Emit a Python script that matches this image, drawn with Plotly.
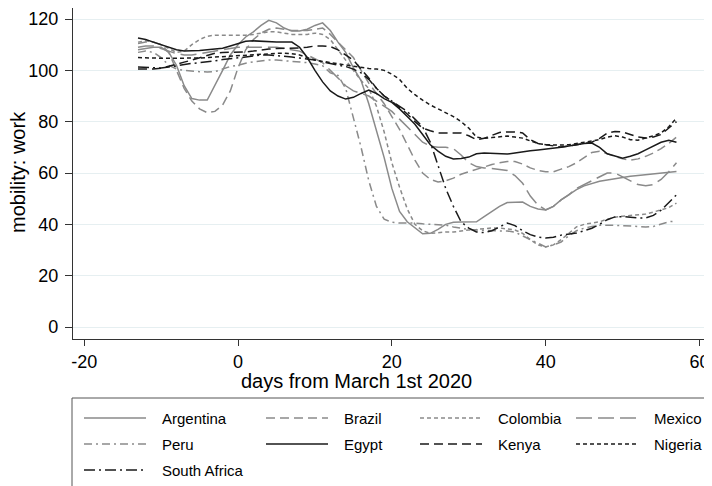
import plotly.graph_objects as go

days = list(range(-13, 58))

argentina = [108, 108.5, 109, 109, 107, 102, 94, 89, 88.4, 88.4, 94, 100, 106, 110, 113, 115, 117.5, 119.5, 118.5, 116.5,
             115.3, 115.3, 116, 117.5, 118.5, 115.5, 111, 107, 101, 96, 87, 77, 66, 54, 45, 41, 38.5, 36.3, 36.5, 38,
             40, 40.8, 40.9, 40.9, 41, 43, 45, 47, 48.5, 48.7, 48.7, 47, 46, 45.6, 47, 49.5, 51.5, 53.5, 55, 56,
             56.8, 57.3, 57.8, 58.3, 58.7, 59, 59.3, 59.6, 60, 60.3, 60.6]
brazil = [110.5, 111, 111, 110, 107, 100, 93, 88, 85, 83.5, 84, 86.5, 92, 101, 108, 112, 114.5, 116, 116.5, 116,
          115.5, 115.5, 115.5, 116, 116.5, 114, 111, 108, 105, 100, 95, 91, 87, 82, 77, 71, 65, 60, 57.5, 56.5,
          57, 58, 59.5, 60.5, 61.5, 62.5, 63.3, 64, 64.5, 64.5, 63.5, 62, 61, 60.5, 60.5, 61.5, 62.5, 64, 66, 68,
          68.5, 67.5, 66.5, 65.5, 65, 65.5, 66.5, 67.8, 69.5, 71.5, 74]
colombia = [111, 111.5, 111, 110, 108.5, 107, 107.5, 110, 112, 113.3, 113.7, 113.7, 113.7, 113.7, 113.7, 114, 114.5, 115, 115, 114.5,
            114, 114, 114, 114.5, 114, 112, 108, 104, 100, 96, 93, 86, 76, 64, 54.5, 46, 40, 37.5, 36.5, 36.8,
            37, 37, 37.5, 37.8, 38, 38.3, 38.6, 38.6, 38.3, 37.8, 36.5, 34, 32, 31.2, 32, 34, 36.5, 39, 40, 40.5,
            41, 42, 42.8, 43.2, 43.4, 43.6, 44, 44.8, 45.5, 46.5, 48.3]
mexico = [109, 109.5, 109.5, 108.5, 107.5, 106.5, 106, 106, 106.5, 107, 107.5, 108, 108.5, 109, 109, 109, 109.2, 109.2, 109, 108.5,
          108, 107.5, 106, 104.5, 103, 100, 97, 94, 92, 91, 90, 88, 86, 84, 81, 78, 75, 72, 70.5, 70,
          70, 69.5, 67, 64, 62.5, 62, 61.8, 61.5, 61, 59, 56, 51, 47.5, 45.6, 47, 49.5, 51.5, 54, 55.5, 57,
          58.5, 60, 60, 58.5, 57, 55.5, 55, 55.5, 57.5, 60.5, 64]
peru = [107, 107.5, 107, 105, 102, 100.5, 100, 99.7, 99.5, 99.4, 99.5, 100.5, 101.5, 102, 102.8, 103.3, 103.7, 104, 104, 103.8,
        103.5, 103.3, 103, 102.5, 101.8, 99, 98, 93, 82, 70, 57, 47, 42, 40.8, 40.5, 40.5, 40.5, 40.2, 40, 39.8,
        39.7, 39, 38.5, 38, 37.8, 37.6, 37.5, 37.4, 37.4, 37, 35.5, 34, 32.5, 31.2, 32, 33.1, 35.5, 37.5, 38.5, 39.2,
        39.6, 39.7, 39.6, 39.5, 39.4, 39.3, 39, 39.2, 40, 41, 41.3]
egypt = [112.6, 112, 111, 110, 109, 108, 107.5, 107.5, 107.7, 108, 108.3, 108.6, 109.5, 110.5, 111.3, 111.5, 111.3, 111.2, 111, 111,
         111, 109, 105, 100, 95.5, 92, 90, 88.8, 89.5, 91, 92.3, 91, 89, 87.5, 85, 82, 79, 75, 71, 68.5,
         66.5, 65.5, 65.7, 66.2, 67.5, 67.8, 67.6, 67.4, 67.4, 67.8, 68.3, 68.7, 69, 69.3, 69.5, 70, 70.5, 71, 71.5, 71.7,
         70, 67.5, 66.5, 65.8, 66.5, 67.5, 69, 70.5, 72, 72.8, 72]
kenya = [100.5, 100.5, 100.5, 100.8, 101.5, 102.5, 103.2, 104, 105, 106, 106.7, 107, 107, 107, 107.2, 107.5, 108, 108.3, 108.5, 108.5,
         108.7, 108.7, 109, 109.5, 109.5, 109.3, 108, 106, 104, 100.5, 97, 93, 90, 88, 85.5, 83, 80, 77.5, 76.5, 75.6,
         75.6, 75.6, 75.6, 74.5, 73, 73.5, 74.8, 75.8, 76, 76, 75.6, 73, 71.5, 71, 70.5, 70.1, 70.5, 71, 71.5, 72,
         73.5, 75.5, 76.2, 76, 75, 74, 73.6, 74, 75, 77.5, 80]
nigeria = [105, 105, 104.8, 104.7, 104.7, 104.7, 104.7, 104.7, 104.8, 105, 105.2, 105.4, 105.6, 105.8, 106, 106, 106.2, 106.4, 106.6, 106.7,
           106.5, 106, 105, 104, 103.5, 103, 102.5, 102, 101.5, 101, 100.7, 100.5, 100, 98.5, 96.5, 93, 90.5, 88.4, 86.5, 85,
           83.5, 82, 80, 77.5, 74, 73.5, 73.8, 74.2, 74.4, 74, 73.6, 72.5, 71.5, 71, 70.9, 70.9, 71, 71.5, 72, 72.5,
           73, 74, 74.5, 74, 73, 72.8, 73.5, 74.5, 75.6, 78, 81.4]
south_africa = [101.3, 101.2, 101, 100.9, 101.3, 101.8, 102.3, 102.7, 103, 103.3, 103.7, 104.2, 104.5, 104.7, 105.2, 105.6, 106, 106, 105.8, 105.5,
                105.2, 104.8, 104.5, 104, 103.3, 102.5, 102, 101.5, 100.5, 99, 96.5, 93, 90, 88, 86, 84, 81, 78, 72, 63,
                54, 47, 41, 38.5, 37, 36.8, 37.5, 39, 40.5, 39.5, 37.5, 36, 35, 34.7, 35, 35.8, 36.2, 36.6, 37.5, 38.5,
                40, 41.8, 42.9, 43, 42.8, 42.5, 42.5, 43.5, 45.5, 48.5, 51.5]

countries = ["Argentina", "Brazil", "Colombia", "Mexico", "Peru", "Egypt", "Kenya", "Nigeria", "South Africa"]
series = [argentina, brazil, colombia, mexico, peru, egypt, kenya, nigeria, south_africa]

x_ticks = [-20, 0, 20, 40, 60]
y_ticks = [0, 20, 40, 60, 80, 100, 120]

GRAY = "#8a8a8a"
BLACK = "#1a1a1a"
styles = {
    "Argentina": (GRAY, "solid"),
    "Brazil": (GRAY, "9px,5px"),
    "Colombia": (GRAY, "4px,3px"),
    "Mexico": (GRAY, "16px,6px"),
    "Peru": (GRAY, "8px,4px,2px,4px"),
    "Egypt": (BLACK, "solid"),
    "Kenya": (BLACK, "9px,5px"),
    "Nigeria": (BLACK, "4px,3px"),
    "South Africa": (BLACK, "11px,4px,2px,4px"),
}

# page layout (browser body has an 8px margin)
OFF = 8
PAGE_W, PAGE_H = 712, 486
W, H = PAGE_W - OFF, PAGE_H - OFF
PLOT_L, PLOT_R, PLOT_T, PLOT_B = 73, 712, 8, 339   # plot area in page pixels
ML = PLOT_L - OFF
MR = (OFF + W) - PLOT_R
MT = PLOT_T - OFF
MB = (OFF + H) - PLOT_B

PX_PER_DAY = 153.85 / 20.0
PX_PER_UNIT = 51.33 / 20.0
X0_PX, Y0_PX = 238.0, 327.0   # page pixels of x=0, y=0

xr = [(PLOT_L - X0_PX) / PX_PER_DAY, (PLOT_R - X0_PX) / PX_PER_DAY]
yr = [(Y0_PX - PLOT_B) / PX_PER_UNIT, (Y0_PX - PLOT_T) / PX_PER_UNIT]

fig = go.Figure()
for name, vals in zip(countries, series):
    assert len(vals) == len(days), name
    col, dash = styles[name]
    fig.add_trace(go.Scatter(x=days, y=vals, mode="lines", name=name,
                             line=dict(color=col, width=1.5, dash=dash),
                             showlegend=False))

FONT = "Liberation Sans, Arial, sans-serif"

def px2paper_x(px):
    return (px - PLOT_L) / (PLOT_R - PLOT_L)

def px2paper_y(py):
    return (PLOT_B - py) / (PLOT_B - PLOT_T)

shapes = []
annotations = []

# legend box
shapes.append(dict(type="rect", xref="paper", yref="paper",
                   x0=px2paper_x(72), x1=px2paper_x(708),
                   y0=px2paper_y(398), y1=px2paper_y(520),
                   line=dict(color="#555555", width=1), fillcolor="rgba(0,0,0,0)"))

col_x = [84, 266, 420, 576]
row_y = [418, 444, 470]
sample_len = 62
text_off = 76
for i, name in enumerate(countries):
    r, c = divmod(i, 4)
    col, dash = styles[name]
    x0 = col_x[c]
    y = row_y[r]
    shapes.append(dict(type="line", xref="paper", yref="paper",
                       x0=px2paper_x(x0), x1=px2paper_x(x0 + sample_len),
                       y0=px2paper_y(y), y1=px2paper_y(y),
                       line=dict(color=col, width=1.5, dash=dash)))
    annotations.append(dict(text=name, xref="paper", yref="paper",
                            x=px2paper_x(x0 + text_off), y=px2paper_y(y),
                            xanchor="left", yanchor="middle", showarrow=False,
                            font=dict(family=FONT, size=15, color="black")))

# axis titles
annotations.append(dict(text="days from March 1st 2020", xref="paper", yref="paper",
                        x=px2paper_x(356), y=px2paper_y(381), xanchor="center", yanchor="middle",
                        showarrow=False, font=dict(family=FONT, size=20, color="black")))
annotations.append(dict(text="mobility: work", xref="paper", yref="paper",
                        x=px2paper_x(18), y=px2paper_y(172), xanchor="center", yanchor="middle",
                        textangle=-90, showarrow=False, font=dict(family=FONT, size=20, color="black")))

fig.update_layout(
    width=W, height=H, autosize=False,
    margin=dict(l=ML, r=MR, t=MT, b=MB, pad=0),
    paper_bgcolor="white", plot_bgcolor="white",
    font=dict(family=FONT, size=18, color="black"),
    shapes=shapes, annotations=annotations,
    showlegend=False,
)
fig.update_xaxes(range=xr, tickvals=x_ticks, ticktext=[str(v) for v in x_ticks],
                 showgrid=False, zeroline=False, showline=True, linecolor="#333333", linewidth=1.2,
                 ticks="outside", ticklen=6, tickwidth=1, tickcolor="#333333",
                 tickfont=dict(family=FONT, size=18, color="black"))
fig.update_yaxes(range=yr, tickvals=y_ticks, ticktext=[str(v) for v in y_ticks],
                 showgrid=True, gridcolor="#e6eff1", gridwidth=1, zeroline=False,
                 showline=True, linecolor="#333333", linewidth=1.2,
                 ticks="outside", ticklen=7, tickwidth=1, tickcolor="#333333",
                 ticklabelstandoff=3,
                 tickfont=dict(family=FONT, size=18, color="black"))

fig.write_html("out.html")
